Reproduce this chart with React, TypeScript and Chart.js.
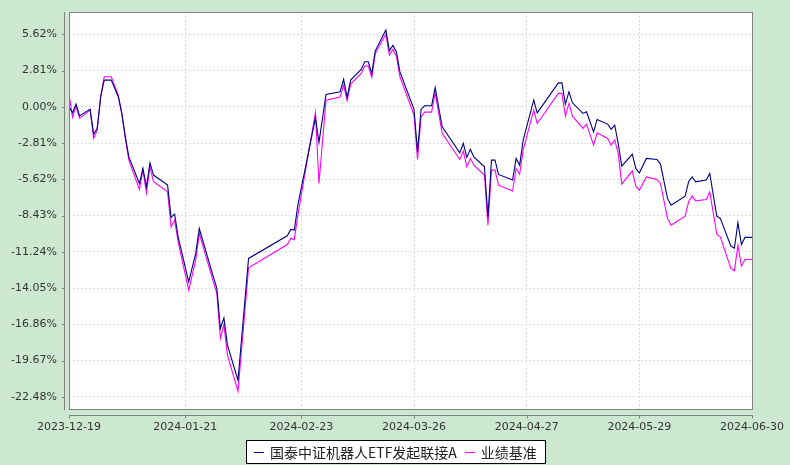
import React, { useEffect, useRef } from 'react';
import { Chart, registerables } from 'chart.js';

Chart.register(...registerables);

// ---- data ----
const dates: string[] = [
  '2023-12-19', '2023-12-20', '2023-12-21', '2023-12-22', '2023-12-25', '2023-12-26', '2023-12-27', '2023-12-28', '2023-12-29', '2023-12-31',
  '2024-01-02', '2024-01-03', '2024-01-04', '2024-01-05', '2024-01-08', '2024-01-09', '2024-01-10', '2024-01-11', '2024-01-12', '2024-01-16',
  '2024-01-17', '2024-01-18', '2024-01-19', '2024-01-22', '2024-01-24', '2024-01-25', '2024-01-29', '2024-01-30', '2024-01-31', '2024-02-01',
  '2024-02-02', '2024-02-05', '2024-02-08', '2024-02-19', '2024-02-20', '2024-02-21', '2024-02-22', '2024-02-27', '2024-02-28', '2024-03-01',
  '2024-03-05', '2024-03-06', '2024-03-07', '2024-03-08', '2024-03-11', '2024-03-12', '2024-03-13', '2024-03-14', '2024-03-15', '2024-03-18',
  '2024-03-19', '2024-03-20', '2024-03-21', '2024-03-22', '2024-03-26', '2024-03-27', '2024-03-28', '2024-03-29', '2024-03-31', '2024-04-01',
  '2024-04-03', '2024-04-08', '2024-04-09', '2024-04-10', '2024-04-11', '2024-04-12', '2024-04-15', '2024-04-16', '2024-04-17', '2024-04-18',
  '2024-04-19', '2024-04-23', '2024-04-24', '2024-04-25', '2024-04-26', '2024-04-29', '2024-04-30', '2024-05-06', '2024-05-07', '2024-05-08',
  '2024-05-09', '2024-05-10', '2024-05-13', '2024-05-14', '2024-05-16', '2024-05-17', '2024-05-20', '2024-05-21', '2024-05-22', '2024-05-23',
  '2024-05-24', '2024-05-27', '2024-05-28', '2024-05-29', '2024-05-31', '2024-06-03', '2024-06-04', '2024-06-06', '2024-06-07', '2024-06-11',
  '2024-06-12', '2024-06-13', '2024-06-14', '2024-06-17', '2024-06-18', '2024-06-20', '2024-06-21', '2024-06-24', '2024-06-25', '2024-06-26',
  '2024-06-27', '2024-06-28', '2024-06-30',
];

const fundValues: number[] = [
  0.00, -0.46, 0.21, -0.70, -0.18, -2.12, -1.68, 0.78, 2.07, 2.07,
  0.78, -0.51, -2.33, -3.88, -5.94, -4.78, -6.20, -4.34, -5.29, -6.07,
  -8.57, -8.32, -10.08, -13.57, -11.36, -9.43, -13.18, -14.08, -17.18, -16.36,
  -18.47, -21.19, -11.75, -10.00, -9.50, -9.56, -7.62, -0.85, -2.76, 0.96,
  1.16, 2.12, 0.73, 2.07, 2.90, 3.49, 3.49, 2.59, 4.34, 5.95,
  4.34, 4.76, 4.26, 2.71, -0.20, -3.49, -0.20, 0.08, 0.08, 1.50,
  -1.55, -3.57, -2.84, -3.92, -3.30, -3.88, -4.65, -8.53, -4.13, -4.13,
  -5.24, -5.68, -4.00, -4.52, -2.58, 0.52, -0.47, 1.86, 1.86, 0.21,
  1.16, 0.31, -0.51, -0.39, -1.94, -0.98, -1.34, -1.75, -1.42, -2.84,
  -4.60, -3.67, -4.78, -5.12, -4.00, -4.08, -4.44, -7.10, -7.62, -6.92,
  -5.81, -5.43, -5.81, -5.68, -5.16, -8.47, -8.65, -10.80, -10.95, -8.99,
  -10.67, -10.12, -10.12,
];

const benchValues: number[] = [
  0.98, -0.82, 0.05, -0.90, -0.26, -2.45, -1.81, 0.78, 2.33, 2.33,
  0.91, -0.50, -2.45, -4.13, -6.40, -4.91, -6.67, -4.65, -5.81, -6.59,
  -9.30, -8.78, -10.47, -14.21, -11.88, -9.81, -13.57, -14.47, -17.95, -16.87,
  -19.25, -22.04, -12.48, -10.67, -10.20, -10.28, -8.40, -0.44, -5.94, 0.52,
  0.75, 1.68, 0.47, 1.76, 2.59, 3.16, 3.16, 2.28, 4.14, 5.64,
  4.01, 4.45, 3.93, 2.33, -0.64, -4.08, -0.78, -0.41, -0.41, 1.09,
  -2.06, -4.08, -3.43, -4.65, -4.00, -4.52, -5.29, -9.17, -4.91, -4.91,
  -6.07, -6.53, -4.78, -5.22, -3.36, -0.26, -1.29, 1.04, 1.04, -0.72,
  0.26, -0.72, -1.67, -1.34, -2.97, -2.02, -2.45, -2.97, -2.58, -3.61,
  -5.99, -4.96, -6.15, -6.46, -5.43, -5.63, -5.94, -8.65, -9.17, -8.47,
  -7.36, -6.92, -7.29, -7.18, -6.59, -9.87, -10.08, -12.53, -12.71, -10.72,
  -12.35, -11.83, -11.83,
];

const xTickDates: string[] = ['2023-12-19', '2024-01-21', '2024-02-23', '2024-03-26', '2024-04-27', '2024-05-29', '2024-06-30'];
const yTickValues: number[] = [-22.48, -19.67, -16.86, -14.05, -11.24, -8.43, -5.62, -2.81, 0, 2.81, 5.62];
const seriesNames: string[] = ['国泰中证机器人ETF发起联接A', '业绩基准'];
const seriesColors: string[] = ['#000080', '#ff00ff'];

const START = Date.UTC(2023, 11, 19);
function dayOf(s: string): number {
  const [y, m, d] = s.split('-').map(Number);
  return (Date.UTC(y, m - 1, d) - START) / 86400000;
}

const AXIS_COLOR = '#808080';
const GRID_COLOR = '#dcdcdc';
const TEXT_COLOR = '#333333';
const TICK_FONT = { family: '"DejaVu Sans", Verdana, sans-serif', size: 11 };

const framePlugin = {
  id: 'frame',
  beforeDraw(chart: any) {
    const { ctx, chartArea: a } = chart;
    ctx.save();
    ctx.fillStyle = '#ffffff';
    ctx.fillRect(a.left, a.top, a.right - a.left, a.bottom - a.top);
    ctx.restore();
  },
  afterDraw(chart: any) {
    const { ctx, chartArea: a, scales } = chart;
    ctx.save();
    ctx.strokeStyle = AXIS_COLOR;
    ctx.lineWidth = 1;
    // plot outline
    ctx.strokeRect(Math.round(a.left) + 0.5, Math.round(a.top) + 0.5, Math.round(a.right - a.left), Math.round(a.bottom - a.top) - 1);
    // offset y axis line
    const yx = Math.round(a.left) - 4.5;
    ctx.beginPath();
    ctx.moveTo(yx, a.top);
    ctx.lineTo(yx, a.bottom);
    yTickValues.forEach((v) => {
      const py = Math.round(scales.y.getPixelForValue(v)) + 0.5;
      ctx.moveTo(yx - 2.5, py);
      ctx.lineTo(yx, py);
    });
    // offset x axis line
    const xy = Math.round(a.bottom) + 5.5;
    ctx.moveTo(a.left, xy);
    ctx.lineTo(a.right + 1, xy);
    xTickDates.forEach((d) => {
      const px = Math.round(scales.x.getPixelForValue(dayOf(d))) + 0.5;
      ctx.moveTo(px, xy);
      ctx.lineTo(px, xy + 3);
    });
    ctx.stroke();

    // legend
    ctx.font = '14px "Noto Sans CJK SC", sans-serif';
    const widths = seriesNames.map((n) => ctx.measureText(n).width);
    const lineW = 10;
    const gapLT = 6;
    const gapItem = 8;
    const padL = 8;
    const padR = 8;
    const total = padL + lineW + gapLT + widths[0] + gapItem + lineW + gapLT + widths[1] + padR;
    const boxL = Math.round(chart.width / 2 - total / 2);
    const boxT = 440;
    const boxH = 23;
    ctx.fillStyle = '#ffffff';
    ctx.fillRect(boxL, boxT, total, boxH);
    ctx.strokeStyle = '#000000';
    ctx.strokeRect(boxL + 0.5, boxT + 0.5, Math.round(total), boxH);
    let x = boxL + padL;
    const cy = boxT + 12;
    seriesNames.forEach((n, i) => {
      ctx.strokeStyle = seriesColors[i];
      ctx.beginPath();
      ctx.moveTo(x, cy + 0.5);
      ctx.lineTo(x + lineW, cy + 0.5);
      ctx.stroke();
      x += lineW + gapLT;
      ctx.fillStyle = '#222222';
      ctx.textBaseline = 'middle';
      ctx.textAlign = 'left';
      ctx.fillText(n, x, cy + 1);
      x += widths[i] + gapItem;
    });
    ctx.restore();
  },
};

export default function App() {
  const canvasRef = useRef<HTMLCanvasElement | null>(null);

  useEffect(() => {
    document.body.style.margin = '0';
    const canvas = canvasRef.current;
    if (!canvas) return;
    const chart = new Chart(canvas, {
      type: 'line',
      data: {
        datasets: [
          {
            label: seriesNames[0],
            data: dates.map((d, i) => ({ x: dayOf(d), y: fundValues[i] })),
            borderColor: seriesColors[0],
            backgroundColor: seriesColors[0],
            borderWidth: 1.1,
            pointRadius: 0,
            tension: 0,
            fill: false,
          },
          {
            label: seriesNames[1],
            data: dates.map((d, i) => ({ x: dayOf(d), y: benchValues[i] })),
            borderColor: seriesColors[1],
            backgroundColor: seriesColors[1],
            borderWidth: 1.1,
            pointRadius: 0,
            tension: 0,
            fill: false,
          },
        ],
      },
      options: {
        animation: false,
        responsive: false,
        devicePixelRatio: 1,
        layout: { padding: { top: 12, right: 38, left: 0, bottom: 0 } },
        plugins: { legend: { display: false }, tooltip: { enabled: false } },
        scales: {
          x: {
            type: 'linear',
            min: 0,
            max: dayOf('2024-06-30'),
            afterBuildTicks: (s: any) => {
              s.ticks = xTickDates.map((d) => ({ value: dayOf(d) }));
            },
            afterFit: (s: any) => {
              s.height = 55;
              s.paddingLeft = 0;
              s.paddingRight = 0;
              s.paddingTop = 0;
              s.paddingBottom = 0;
            },
            grid: { color: GRID_COLOR, drawTicks: false, lineWidth: 1 },
            border: { display: false, dash: [2, 2] },
            ticks: {
              autoSkip: false,
              maxRotation: 0,
              minRotation: 0,
              padding: 11,
              color: TEXT_COLOR,
              font: TICK_FONT,
              callback: (_v: any, i: number) => xTickDates[i],
            },
          },
          y: {
            type: 'linear',
            min: -23.5,
            max: 7.35,
            afterBuildTicks: (s: any) => {
              s.ticks = yTickValues.map((v) => ({ value: v }));
            },
            afterFit: (s: any) => {
              s.width = 69;
              s.paddingLeft = 0;
              s.paddingRight = 0;
              s.paddingTop = 0;
              s.paddingBottom = 0;
            },
            grid: { color: GRID_COLOR, drawTicks: false, lineWidth: 1 },
            border: { display: false, dash: [2, 2] },
            ticks: {
              padding: 12,
              color: TEXT_COLOR,
              font: TICK_FONT,
              callback: (v: any) => Number(v).toFixed(2) + '%',
            },
          },
        },
      } as any,
      plugins: [framePlugin],
    });
    return () => {
      chart.destroy();
    };
  }, []);

  return (
    <div
      style={{
        position: 'absolute',
        left: 0,
        top: 0,
        width: 790,
        height: 465,
        background: '#cde8d0',
      }}
    >
      <canvas ref={canvasRef} width={790} height={465} style={{ display: 'block' }} />
    </div>
  );
}
